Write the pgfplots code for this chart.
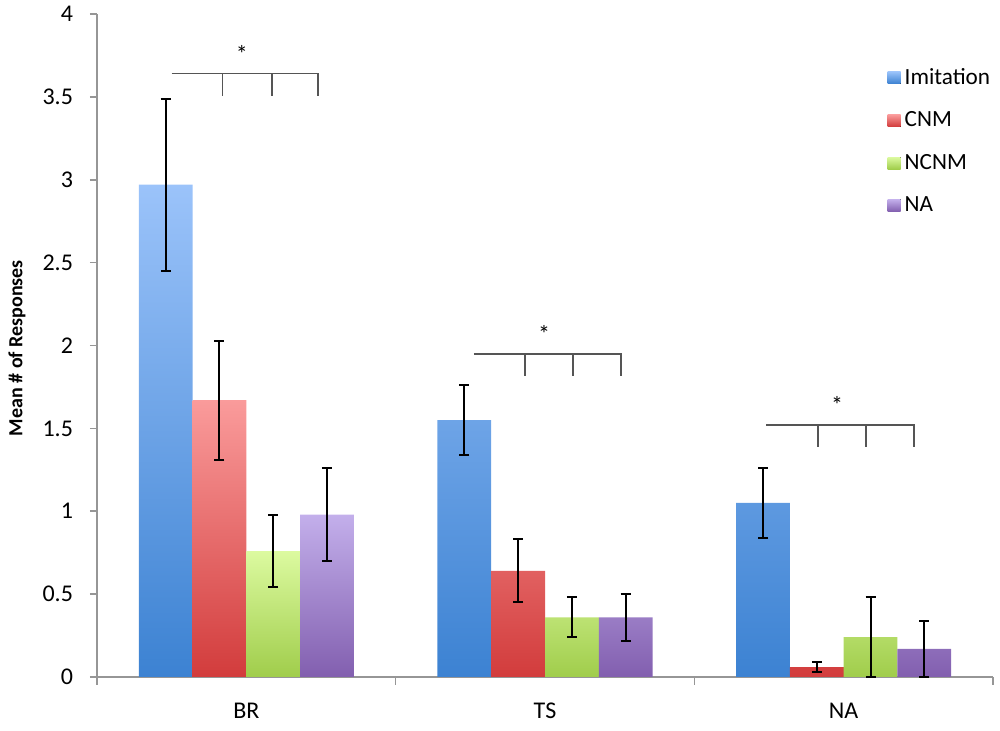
\documentclass[border=0pt]{standalone}
\usepackage{pgfplots}
\pgfplotsset{compat=1.18}
\usepackage{fontspec}
\setmainfont{Carlito}
\definecolor{axisgray}{RGB}{150,150,150}
\definecolor{brgray}{RGB}{85,85,85}
\definecolor{impTop}{RGB}{155,195,250}
\definecolor{impBot}{RGB}{60,130,210}
\definecolor{cnmTop}{RGB}{250,155,155}
\definecolor{cnmBot}{RGB}{210,60,60}
\definecolor{ncnmTop}{RGB}{220,250,160}
\definecolor{ncnmBot}{RGB}{160,205,75}
\definecolor{naTop}{RGB}{195,175,235}
\definecolor{naBot}{RGB}{130,95,175}
\pgfplotsset{myerr/.style={
  error bars/y dir=both, error bars/y explicit,
  error bars/error bar style={black, line width=1pt},
  error bars/error mark options={black, rotate=90, mark size=2.5pt, line width=1pt}}}
\begin{document}
\begin{tikzpicture}
\path[use as bounding box] (-48.5pt,-27pt) rectangle (451.5pt,338.5pt);
\begin{axis}[
  at={(0,0)}, anchor=south west,
  scale only axis, width=448pt, height=331.5pt,
  xmin=0.5, xmax=3.5, ymin=0, ymax=4,
  clip=false,
  axis lines=left,
  axis line style={-, draw=axisgray, line width=0.8pt},
  xtick={1,2,3}, xticklabels={BR,TS,NA},
  major x tick style={draw=none},
  minor xtick={0.5,1.5,2.5,3.5},
  minor tick length=4pt,
  ytick={0,0.5,1,1.5,2,2.5,3,3.5,4},
  yticklabels={0,0.5,1,1.5,2,2.5,3,3.5,4},
  tick align=outside,
  major tick length=3.5pt,
  tick style={axisgray, line width=0.8pt},
  tick label style={font=\fontsize{12}{14}\selectfont},
  xticklabel style={yshift=-6pt},
  yticklabel style={xshift=-5pt},
  /pgf/number format/assume math mode=true,
  every axis y label/.style={at={(axis description cs:-0.0893,0.496)}, anchor=center, rotate=90},
  ylabel={\fontsize{10}{12}\selectfont\bfseries Mean \# of Responses},
  ybar, bar width=0.18,
  legend style={draw=none, fill=none, at={(axis description cs:0.882,0.925)}, anchor=north west,
    inner sep=0pt, row sep=8.2pt, font=\fontsize{11.6}{13.6}\selectfont,
    /tikz/every even column/.append style={column sep=2pt}},
  legend cell align=left,
  legend image code/.code={\fill[#1] (0pt,-3pt) rectangle (6.5pt,3pt);},
]
\addplot[draw=none, top color=impTop, bottom color=impBot, bar shift=-0.27, myerr]
  coordinates {(1,2.97) +- (0,0.52) (2,1.55) +- (0,0.21) (3,1.05) +- (0,0.21)};
\addplot[draw=none, top color=cnmTop, bottom color=cnmBot, bar shift=-0.09, myerr]
  coordinates {(1,1.67) +- (0,0.36) (2,0.64) +- (0,0.19) (3,0.06) +- (0,0.03)};
\addplot[draw=none, top color=ncnmTop, bottom color=ncnmBot, bar shift=0.09, myerr]
  coordinates {(1,0.76) +- (0,0.22) (2,0.36) +- (0,0.12) (3,0.24) += (0,0.24) -= (0,0.24)};
\addplot[draw=none, top color=naTop, bottom color=naBot, bar shift=0.27, myerr]
  coordinates {(1,0.98) +- (0,0.28) (2,0.36) +- (0,0.14) (3,0.17) += (0,0.17) -= (0,0.17)};
\legend{Imitation,CNM,NCNM,NA}
% significance brackets
\draw[brgray, line width=0.8pt] (axis cs:0.75,3.64) -- (axis cs:1.24,3.64) -- (axis cs:1.24,3.505);
\draw[brgray, line width=0.8pt] (axis cs:0.92,3.64) -- (axis cs:0.92,3.505);
\draw[brgray, line width=0.8pt] (axis cs:1.085,3.64) -- (axis cs:1.085,3.505);
\node[font=\fontsize{12}{14}\selectfont] at (axis cs:0.985,3.76) {*};
\draw[brgray, line width=0.8pt] (axis cs:1.762,1.949) -- (axis cs:2.254,1.949) -- (axis cs:2.254,1.816);
\draw[brgray, line width=0.8pt] (axis cs:1.933,1.949) -- (axis cs:1.933,1.816);
\draw[brgray, line width=0.8pt] (axis cs:2.094,1.949) -- (axis cs:2.094,1.816);
\node[font=\fontsize{12}{14}\selectfont] at (axis cs:1.997,2.07) {*};
\draw[brgray, line width=0.8pt] (axis cs:2.74,1.52) -- (axis cs:3.235,1.52) -- (axis cs:3.235,1.388);
\draw[brgray, line width=0.8pt] (axis cs:2.914,1.52) -- (axis cs:2.914,1.388);
\draw[brgray, line width=0.8pt] (axis cs:3.075,1.52) -- (axis cs:3.075,1.388);
\node[font=\fontsize{12}{14}\selectfont] at (axis cs:2.978,1.64) {*};
\end{axis}
\end{tikzpicture}
\end{document}
